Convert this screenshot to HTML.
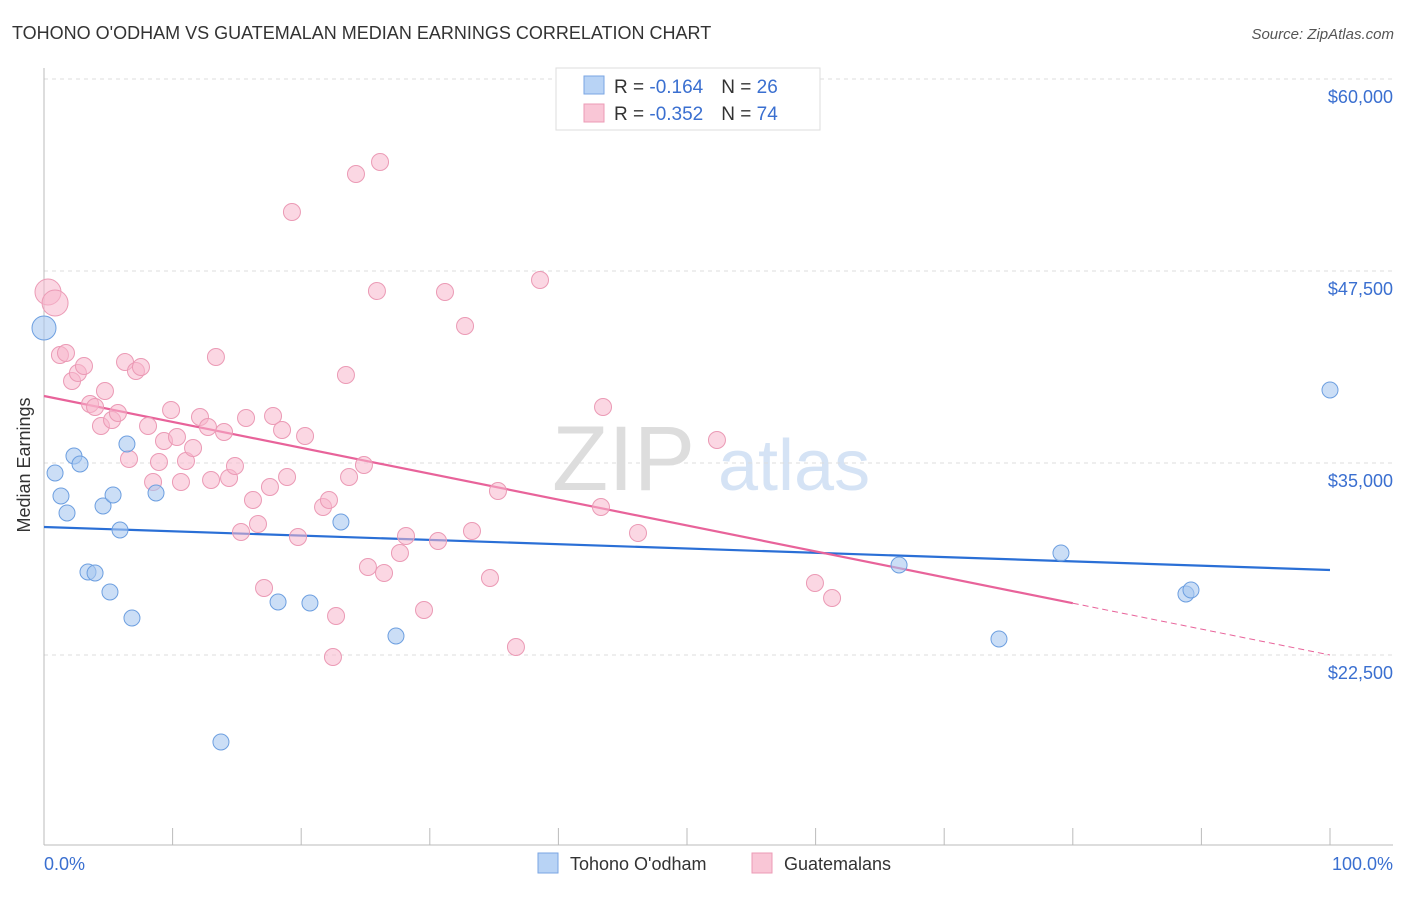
<!DOCTYPE html>
<html><head><meta charset="utf-8"><style>
body{margin:0;background:#fff;font-family:"Liberation Sans",sans-serif;}
svg text{font-family:"Liberation Sans",sans-serif;}
</style></head><body>
<svg width="1406" height="892" viewBox="0 0 1406 892">
<text x="12" y="39" font-size="18" fill="#333">TOHONO O'ODHAM VS GUATEMALAN MEDIAN EARNINGS CORRELATION CHART</text>
<text x="1394" y="39" font-size="15" fill="#555" font-style="italic" text-anchor="end">Source: ZipAtlas.com</text>
<g>
<text x="552" y="490" font-size="92" fill="#ddd" font-family="Liberation Serif,serif">ZIP</text>
<text x="718" y="490" font-size="72" fill="#d5e3f5">atlas</text>
</g>
<g id="grid"></g>
<g id="axes"></g>
<g id="trend"></g>
<g id="pts"></g>
<text x="20" y="455" font-size="18" fill="#333" transform="rotate(-90 30 455)" text-anchor="middle">Median Earnings</text>
<text x="44" y="870" font-size="18" fill="#3a6fd0">0.0%</text>
<text x="1393" y="870" font-size="18" fill="#3a6fd0" text-anchor="end">100.0%</text>
<g>
<rect x="556" y="68" width="264" height="62" fill="#fff" stroke="#ddd"/>
<rect x="584" y="76" width="20" height="18" fill="#b8d3f5" stroke="#7aa6e3"/>
<rect x="584" y="104" width="20" height="18" fill="#f9c6d6" stroke="#ec9bb6"/>
<text x="614" y="93" font-size="19" fill="#333">R = <tspan fill="#3a6fd0">-0.164</tspan><tspan dx="18">N = </tspan><tspan fill="#3a6fd0">26</tspan></text>
<text x="614" y="120" font-size="19" fill="#333">R = <tspan fill="#3a6fd0">-0.352</tspan><tspan dx="18">N = </tspan><tspan fill="#3a6fd0">74</tspan></text>
</g>
<g>
<rect x="538" y="853" width="20" height="20" fill="#b8d3f5" stroke="#7aa6e3"/>
<text x="570" y="870" font-size="18" fill="#333">Tohono O'odham</text>
<rect x="752" y="853" width="20" height="20" fill="#f9c6d6" stroke="#ec9bb6"/>
<text x="784" y="870" font-size="18" fill="#333">Guatemalans</text>
</g>
</svg>
<script>
const yTicks=[60000,47500,35000,22500];
const yTickLabels=["$60,000","$47,500","$35,000","$22,500"];
const blueX=[0,0.86,1.32,1.79,2.33,2.8,3.42,3.97,4.59,5.13,5.37,5.91,6.45,6.84,8.71,13.76,18.2,20.68,23.09,27.37,66.49,74.26,79.08,88.8,89.19,100];
const blueY=[43789,34349,32852,31745,35456,34935,27904,27839,32201,26602,32917,30638,36237,24909,33047,16836,25951,25886,31159,23737,28359,23542,29141,26471,26732,39753];
const blueR=[12,8,8,8,8,8,8,8,8,8,8,8,8,8,8,8,8,8,8,8,8,8,8,8,8,8];
const pinkX=[0.31,0.86,1.24,1.71,2.18,2.64,3.11,3.58,3.97,4.43,4.74,5.29,5.75,6.3,6.61,7.15,7.54,8.09,8.48,8.94,9.33,9.88,10.34,10.65,11.04,11.59,12.13,12.75,12.99,13.37,14,14.39,14.85,15.32,15.71,16.25,16.64,17.11,17.57,17.81,18.51,18.9,19.28,19.75,20.3,21.7,22.16,22.71,22.47,23.48,23.72,24.26,24.88,25.19,25.89,26.13,26.44,27.68,28.15,29.55,30.64,31.18,32.74,33.28,34.68,35.3,36.7,38.57,43.31,43.47,46.19,52.33,59.95,61.28];
const pinkY=[46133,45417,42031,42162,40339,40859,41315,38841,38646,37409,39687,37799,38255,41576,35260,40990,41250,37409,33763,35065,36432,38451,36693,33763,35130,35977,37995,37344,33893,41901,37018,34023,34805,30508,37930,32591,31029,26862,33437,38060,37148,34089,51341,30182,36758,32135,32591,25039,22370,40729,34089,53815,34870,28229,46198,54596,27839,29141,30247,25430,29922,46133,43919,30573,27513,33177,23021,46914,32135,38646,30443,36497,27187,26211];
const blueTrend=[30833,28034];
const pinkTrend=[39362,22500];
const pinkSolidEnd=80;
const X=p=>44+p*12.86, Y=v=>79+(60000-v)/65.104;
const NS="http://www.w3.org/2000/svg";
function mk(t,a,parent){const e=document.createElementNS(NS,t);for(const k in a)e.setAttribute(k,a[k]);document.getElementById(parent).appendChild(e);return e;}
yTicks.forEach((v,i)=>{
 const l=mk('line',{x1:44,x2:1393,y1:Y(v),y2:Y(v),stroke:'#ddd','stroke-dasharray':'4 4'},'grid');
 
 
 const t=mk('text',{x:1393,y:Y(v)+24,'font-size':18,fill:'#3a6fd0','text-anchor':'end'},'grid');
 t.textContent=yTickLabels[i];
 
 
});
mk('line',{x1:44,x2:44,y1:68,y2:845,stroke:'#bbb'},'axes');
mk('line',{x1:44,x2:1393,y1:845,y2:845,stroke:'#bbb'},'axes');
for(let i=1;i<=10;i++){const l=mk('line',{x1:X(i*10),x2:X(i*10),y1:828,y2:845,stroke:'#bbb'},'axes');
 
 }
const pv=p=>pinkTrend[0]+(pinkTrend[1]-pinkTrend[0])*p/100;
let l=mk('line',{x1:X(0),y1:Y(blueTrend[0]),x2:X(100),y2:Y(blueTrend[1]),stroke:'#2a6fd6','stroke-width':2.2},'trend');


l=mk('line',{x1:X(0),y1:Y(pv(0)),x2:X(pinkSolidEnd),y2:Y(pv(pinkSolidEnd)),stroke:'#e8639a','stroke-width':2.2},'trend');


l=mk('line',{x1:X(pinkSolidEnd),y1:Y(pv(pinkSolidEnd)),x2:X(100),y2:Y(pv(100)),stroke:'#e8639a','stroke-width':1,'stroke-dasharray':'6 4'},'trend');


pinkX.forEach((x,i)=>{const c=mk('circle',{cx:X(x),cy:Y(pinkY[i]),r:i<2?13:8.5,fill:'rgba(247,182,204,0.55)',stroke:'#eb9ab5','stroke-width':1},'pts');
 
 });
blueX.forEach((x,i)=>{const c=mk('circle',{cx:X(x),cy:Y(blueY[i]),r:blueR[i],fill:'rgba(168,200,240,0.6)',stroke:'#6d9fe0','stroke-width':1},'pts');
 
 });
</script>
</body></html>
